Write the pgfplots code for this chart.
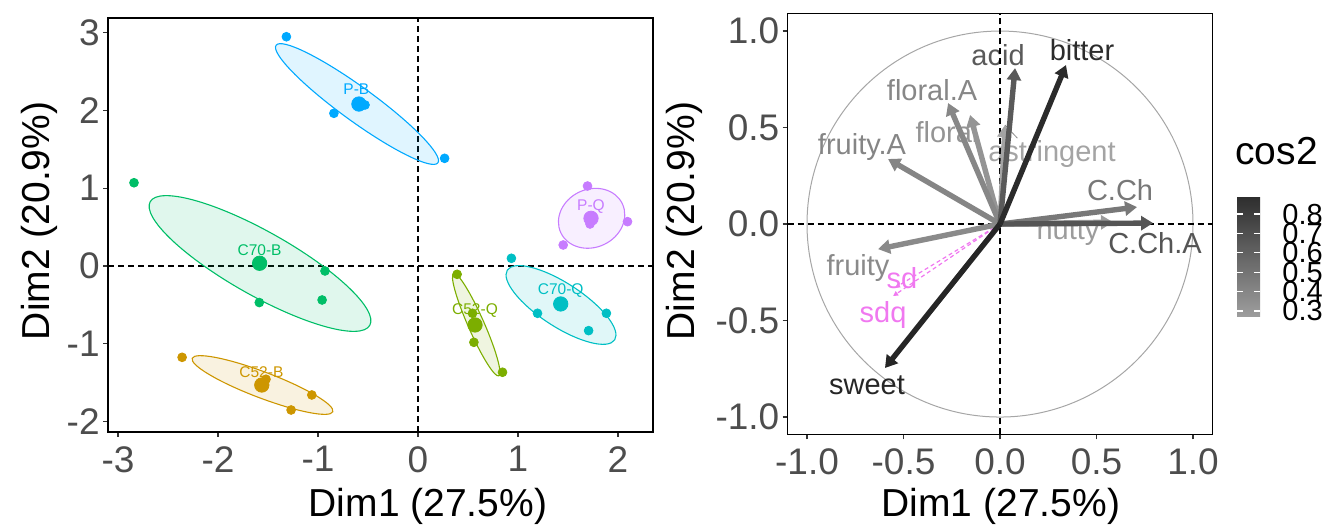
\documentclass[border=0pt]{standalone}
\usepackage{pgfplots}
\pgfplotsset{compat=1.18}
\usepackage{fontspec}
\setmainfont{Liberation Sans}
\usetikzlibrary{arrows.meta}
\definecolor{tk}{HTML}{4D4D4D}
\definecolor{cPB}{HTML}{00A9FF}
\definecolor{cPQ}{HTML}{C77CFF}
\definecolor{cCB}{HTML}{00BE67}
\definecolor{cCQ}{HTML}{00BFC4}
\definecolor{cSB}{HTML}{CD9600}
\definecolor{cSQ}{HTML}{7CAE00}
\definecolor{vBitter}{HTML}{2B2B2B}
\definecolor{vSweet}{HTML}{262626}
\definecolor{vAcid}{HTML}{5A5A5A}
\definecolor{vCChA}{HTML}{555555}
\definecolor{vCCh}{HTML}{787878}
\definecolor{vFruA}{HTML}{858585}
\definecolor{vFloA}{HTML}{878787}
\definecolor{vFru}{HTML}{8A8A8A}
\definecolor{vFlo}{HTML}{949494}
\definecolor{vNut}{HTML}{9C9C9C}
\definecolor{vAst}{HTML}{A4A4A4}
\definecolor{vSup}{HTML}{F078F0}
\pgfplotsset{
  base/.style={
    scale only axis,
    axis line style={black, line width=0.6pt},
    tick style={black!80, line width=0.6pt},
    major tick length=2.5pt,
    tick align=outside,
    xtick pos=bottom, ytick pos=left,
    ticklabel style={font=\fontsize{18.5}{20}\selectfont, text=tk},
    xticklabel style={inner sep=4.5pt},
    yticklabel style={inner sep=1.5pt},
    label style={font=\fontsize{19.5}{22}\selectfont, text=black},
  },
  arr/.style={line width=2.7pt, -{Triangle[length=6pt,width=7pt]}},
}
\tikzset{
  vlab/.style={font=\fontsize{14.5}{16}\selectfont, anchor=center, inner sep=0pt},
  glab/.style={font=\fontsize{7.75}{9}\selectfont, anchor=center, inner sep=0pt},
  ell/.style={line width=0.55pt, fill opacity=0.12, draw opacity=1},
}
\begin{document}
\begin{tikzpicture}
% ---------------- left: individuals ----------------
\begin{axis}[base, at={(54pt,48pt)}, anchor=south west,
  width=272.5pt, height=207pt,
  xmin=-3.1, xmax=2.35, ymin=-2.134, ymax=3.188,
  xtick={-3,-2,-1,0,1,2}, xticklabels={-3,-2,-1,0,1,2},
  ytick={-2,-1,0,1,2,3}, yticklabels={-2,-1,0,1,2,3},
  xlabel={Dim1 (27.5\%)}, ylabel={Dim2 (20.9\%)},
  xlabel style={at={(rel axis cs:0.587,-0.1787)}, anchor=center},
  ylabel style={at={(rel axis cs:-0.1266,0.51)}, anchor=center}]
\addplot[black, line width=0.6pt, dash pattern=on 3pt off 2pt] coordinates {(-3.1,0) (2.35,0)};
\addplot[black, line width=0.6pt, dash pattern=on 3pt off 2pt] coordinates {(0,-2.134) (0,3.188)};
% ellipses
\filldraw[ell, draw=cPB, fill=cPB, rotate around={-36:(axis cs:-0.61,2.082)}] (axis cs:-0.61,2.082) ellipse [x radius=50pt, y radius=8.5pt];
\filldraw[ell, draw=cPQ, fill=cPQ, rotate around={25:(axis cs:1.736,0.613)}] (axis cs:1.736,0.613) ellipse [x radius=17pt, y radius=14.5pt];
\filldraw[ell, draw=cCB, fill=cCB, rotate around={-29.4:(axis cs:-1.58,0.032)}] (axis cs:-1.58,0.032) ellipse [x radius=63pt, y radius=16pt];
\filldraw[ell, draw=cSB, fill=cSB, rotate around={-20.8:(axis cs:-1.555,-1.53)}] (axis cs:-1.555,-1.53) ellipse [x radius=37.6pt, y radius=6.5pt];
\filldraw[ell, draw=cSQ, fill=cSQ, rotate around={-66.2:(axis cs:0.582,-0.754)}] (axis cs:0.582,-0.754) ellipse [x radius=28pt, y radius=4pt];
\filldraw[ell, draw=cCQ, fill=cCQ, rotate around={-33:(axis cs:1.43,-0.501)}] (axis cs:1.43,-0.501) ellipse [x radius=32pt, y radius=10.9pt];
% individuals
\addplot[only marks, mark=*, mark size=2.2pt, color=cPB] coordinates {(-1.316,2.947) (-0.841,1.963) (0.266,1.384) (-0.53,2.07)};
\addplot[only marks, mark=*, mark size=2.2pt, color=cPQ] coordinates {(1.695,1.028) (2.095,0.57) (1.452,0.27) (1.72,0.54)};
\addplot[only marks, mark=*, mark size=2.2pt, color=cCB] coordinates {(-2.84,1.07) (-0.93,-0.064) (-0.959,-0.437) (-1.587,-0.47)};
\addplot[only marks, mark=*, mark size=2.2pt, color=cSB] coordinates {(-2.359,-1.174) (-1.062,-1.658) (-1.269,-1.851) (-1.52,-1.456)};
\addplot[only marks, mark=*, mark size=2.2pt, color=cSQ] coordinates {(0.391,-0.107) (0.545,-0.608) (0.559,-0.981) (0.845,-1.366)};
\addplot[only marks, mark=*, mark size=2.2pt, color=cCQ] coordinates {(0.934,0.099) (1.195,-0.608) (1.884,-0.608) (1.706,-0.831)};
% centroids
\addplot[only marks, mark=*, mark size=3.6pt, color=cPB] coordinates {(-0.591,2.082)};
\addplot[only marks, mark=*, mark size=3.6pt, color=cPQ] coordinates {(1.73,0.613)};
\addplot[only marks, mark=*, mark size=3.6pt, color=cCB] coordinates {(-1.584,0.035)};
\addplot[only marks, mark=*, mark size=3.6pt, color=cSB] coordinates {(-1.562,-1.53)};
\addplot[only marks, mark=*, mark size=3.6pt, color=cSQ] coordinates {(0.57,-0.758)};
\addplot[only marks, mark=*, mark size=3.6pt, color=cCQ] coordinates {(1.427,-0.488)};
% group labels
\node[glab, text=cPB] at (axis cs:-0.616,2.27) {P-B};
\node[glab, text=cPQ] at (axis cs:1.73,0.77) {P-Q};
\node[glab, text=cCB] at (axis cs:-1.584,0.206) {C70-B};
\node[glab, text=cCQ] at (axis cs:1.427,-0.317) {C70-Q};
\node[glab, text=cSQ] at (axis cs:0.57,-0.578) {C52-Q};
\node[glab, text=cSB] at (axis cs:-1.566,-1.371) {C52-B};
\end{axis}
% ---------------- right: variables ----------------
\begin{axis}[base, at={(393.85pt,46.8pt)}, anchor=south west,
  width=212.3pt, height=210.35pt,
  xmin=-1.1, xmax=1.1, ymin=-1.09, ymax=1.09,
  xtick={-1,-0.5,0,0.5,1}, xticklabels={-1.0,-0.5,0.0,0.5,1.0},
  ytick={-1,-0.5,0,0.5,1}, yticklabels={-1.0,-0.5,0.0,0.5,1.0},
  xlabel={Dim1 (27.5\%)}, ylabel={Dim2 (20.9\%)},
  xlabel style={at={(rel axis cs:0.502,-0.170)}, anchor=center},
  ylabel style={at={(rel axis cs:-0.2442,0.507)}, anchor=center},
  colorbar,
  colormap={cosmap}{rgb255=(158,158,158) rgb255=(45,45,45)},
  point meta min=0.269, point meta max=0.893,
  colorbar style={
    at={(parent axis.south east)}, anchor=south west,
    xshift=3.85pt, yshift=58.7pt,
    scale only axis, width=11.5pt, height=60.5pt,
    ytick={0.3,0.4,0.5,0.6,0.7,0.8}, yticklabels={0.3,0.4,0.5,0.6,0.7,0.8},
    ytick pos=both, yticklabel pos=right,
    tick align=inside, major tick length=3pt,
    tick style={white, line width=0.6pt},
    axis line style={draw=none},
    yticklabel style={font=\fontsize{14.5}{15}\selectfont, text=black, inner sep=0pt, anchor=west, xshift=11pt},
  }]
\draw[black!35, line width=0.5pt] (axis cs:0,0) circle [radius=96.5pt];
% labels
\node[vlab, text=vAcid] at (axis cs:-0.010,0.876) {acid};
\node[vlab, text=vBitter] at (axis cs:0.425,0.902) {bitter};
\node[vlab, text=vFloA] at (axis cs:-0.352,0.694) {floral.A};
\node[vlab, text=vFlo] at (axis cs:-0.275,0.477) {floral};
\node[vlab, text=vAst] at (axis cs:0.269,0.363) {astringent};
\node[vlab, text=vFruA] at (axis cs:-0.715,0.399) {fruity.A};
\node[vlab, text=vCCh] at (axis cs:0.622,0.176) {C.Ch};
\node[vlab, text=vNut] at (axis cs:0.352,-0.047) {nutty};
\node[vlab, text=vCChA] at (axis cs:0.803,-0.098) {C.Ch.A};
\node[vlab, text=vFru] at (axis cs:-0.736,-0.228) {fruity};
\node[vlab, text=vSup] at (axis cs:-0.508,-0.280) {sd};
\node[vlab, text=vSup] at (axis cs:-0.606,-0.472) {sdq};
\node[vlab, text=vSweet] at (axis cs:-0.689,-0.834) {sweet};
\addplot[black, line width=0.6pt, dash pattern=on 3pt off 2pt] coordinates {(-1.1,0) (1.1,0)};
\addplot[black, line width=0.6pt, dash pattern=on 3pt off 2pt] coordinates {(0,-1.09) (0,1.09)};
\addplot[black!45, line width=0.4pt] coordinates {(0.026,0.513) (0.09,0.445)};
% supplementary
\addplot[vSup, line width=0.6pt, dash pattern=on 2pt off 1.5pt, -{Triangle[length=2.5pt,width=2.5pt]}] coordinates {(0,0) (-0.544,-0.33)};
\addplot[vSup, line width=0.6pt, dash pattern=on 2pt off 1.5pt, -{Triangle[length=2.5pt,width=2.5pt]}] coordinates {(0,0) (-0.554,-0.373)};
% arrows
\addplot[arr, vAst] coordinates {(0,0) (0.026,0.513)};
\addplot[arr, vNut] coordinates {(0,0) (0.585,0.010)};
\addplot[arr, vFlo] coordinates {(0,0) (-0.155,0.565)};
\addplot[arr, vFru] coordinates {(0,0) (-0.632,-0.130)};
\addplot[arr, vFloA] coordinates {(0,0) (-0.269,0.627)};
\addplot[arr, vFruA] coordinates {(0,0) (-0.580,0.337)};
\addplot[arr, vCCh] coordinates {(0,0) (0.710,0.088)};
\addplot[arr, vCChA] coordinates {(0,0) (0.793,0.005)};
\addplot[arr, vAcid] coordinates {(0,0) (0.078,0.808)};
\addplot[arr, vBitter] coordinates {(0,0) (0.342,0.824)};
\addplot[arr, vSweet] coordinates {(0,0) (-0.596,-0.746)};
\end{axis}
\node[anchor=base west, inner sep=0pt, font=\fontsize{19.5}{22}\selectfont] at (617.5pt,181.5pt) {cos2};
\pgfresetboundingbox
\useasboundingbox (0pt,0pt) rectangle (662.5pt,264pt);
\end{tikzpicture}
\end{document}
